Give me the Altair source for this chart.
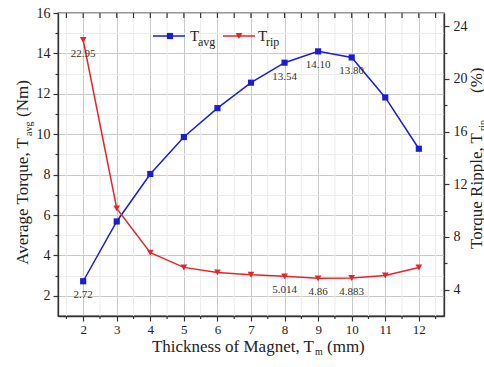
import altair as alt
import pandas as pd

# Magnet thickness sweep (mm)
thickness = [2, 3, 4, 5, 6, 7, 8, 9, 10, 11, 12]
# Average torque (Nm)
t_avg = [2.72, 5.68, 8.03, 9.86, 11.29, 12.55, 13.54, 14.10, 13.80, 11.82, 9.28]
# Torque ripple (%)
t_rip = [22.95, 10.17, 6.80, 5.69, 5.31, 5.13, 5.014, 4.86, 4.883, 5.08, 5.68]

# Annotated points: thickness -> printed value
avg_label_x = [2, 8, 9, 10]
avg_label_txt = ["2.72", "13.54", "14.10", "13.80"]
rip_label_x = [2, 8, 9, 10]
rip_label_txt = ["22.95", "5.014", "4.86", "4.883"]

BLUE = "#1c1cd0"
RED = "#e3262c"
FONT = "Liberation Serif"

W, H = 386, 303

df = pd.DataFrame({"x": thickness, "avg": t_avg, "rip": t_rip})
avg_lab = pd.DataFrame({
    "x": avg_label_x,
    "avg": [t_avg[thickness.index(v)] for v in avg_label_x],
    "txt": avg_label_txt,
})
rip_lab = pd.DataFrame({
    "x": rip_label_x,
    "rip": [t_rip[thickness.index(v)] for v in rip_label_x],
    "txt": rip_label_txt,
})

x_major = list(range(2, 13))
x_minor = [1.5 + i for i in range(12)]
x_all = sorted(x_major + x_minor)

x_enc = alt.X(
    "x:Q",
    scale=alt.Scale(domain=[1.25, 12.75], nice=False, zero=False),
    axis=alt.Axis(
        values=x_major,
        format="d",
        tickSize=5,
        grid=True,
        gridColor="#c9c9c9",
        title=None,
        labelFont=FONT, labelFontSize=13, labelColor="#222",
        labelPadding=2,
        domainColor="#333", domainWidth=1.3, tickColor="#333", tickWidth=1.2,
    ),
)

y_avg = alt.Y(
    "avg:Q",
    scale=alt.Scale(domain=[1, 16], nice=False, zero=False),
    axis=alt.Axis(
        values=list(range(2, 17)),
        labelExpr="datum.value % 2 == 0 ? datum.label : ''",
        labelOverlap=False,
        labelFlush=False,
        tickSize={"condition": {"test": "datum.value % 2 == 0", "value": 5}, "value": 3},
        gridColor={"condition": {"test": "datum.value % 2 == 0", "value": "#c9c9c9"}, "value": "#ececec"},
        grid=True,
        title=None,
        labelFont=FONT, labelFontSize=14, labelColor="#222",
        labelPadding=3,
        domainColor="#333", domainWidth=1.3, tickColor="#333", tickWidth=1.2,
    ),
)

y_rip = alt.Y(
    "rip:Q",
    scale=alt.Scale(domain=[2, 25], nice=False, zero=False),
    axis=alt.Axis(
        orient="right",
        values=list(range(4, 25, 2)),
        labelExpr="datum.value % 4 == 0 ? datum.label : ''",
        labelOverlap=False,
        labelFlush=False,
        tickSize={"condition": {"test": "datum.value % 4 == 0", "value": 5}, "value": 3},
        grid=False,
        title=None,
        labelFont=FONT, labelFontSize=14, labelColor="#222",
        labelPadding=4,
        domainColor="#333", domainWidth=1.3, tickColor="#333", tickWidth=1.2,
    ),
)

# Minor vertical grid lines and minor bottom ticks at half-millimetre steps
minor_df = pd.DataFrame({"x": x_minor})
minor_grid = alt.Chart(minor_df).mark_rule(color="#ececec", strokeWidth=1).encode(
    x=x_enc, y=alt.value(0), y2=alt.value(H))
minor_ticks = alt.Chart(minor_df).mark_rule(color="#333", strokeWidth=1.2).encode(
    x=x_enc, y=alt.value(H), y2=alt.value(H + 3))

avg_line = alt.Chart(df).mark_line(
    color=BLUE, strokeWidth=1.5,
    point=alt.OverlayMarkDef(shape="square", size=38, filled=True, color=BLUE, opacity=1),
).encode(x=x_enc, y=y_avg)
avg_text = alt.Chart(avg_lab).mark_text(
    font=FONT, fontSize=11, color="#333", dy=14, baseline="middle"
).encode(x=x_enc, y=y_avg, text="txt:N")

rip_line = alt.Chart(df).mark_line(
    color=RED, strokeWidth=1.5,
    point=alt.OverlayMarkDef(shape="triangle-down", size=45, filled=True, color=RED, opacity=1),
).encode(x=x_enc, y=y_rip)
rip_text = alt.Chart(rip_lab).mark_text(
    font=FONT, fontSize=11, color="#333", dy=14, baseline="middle"
).encode(x=x_enc, y=y_rip, text="txt:N")

avg_layer = alt.layer(avg_line, avg_text)
rip_layer = alt.layer(rip_line, rip_text)

# Inward ticks along the top frame
top_ticks = alt.Chart(pd.DataFrame({"x": x_all})).mark_rule(
    color="#333", strokeWidth=1.2
).encode(x=x_enc, y=alt.value(0), y2=alt.value(5))

one = pd.DataFrame({"k": [0]})


def txt(s, x, y, size=17, angle=0, align="left", baseline="alphabetic"):
    return alt.Chart(one).mark_text(
        text=s, font=FONT, fontSize=size, color="#222", angle=angle,
        align=align, baseline=baseline,
    ).encode(x=alt.value(x), y=alt.value(y))


# Axis titles with subscripts
x_title = [
    txt("Thickness of Magnet, T", 256, 339, align="right"),
    txt("m", 257, 342, size=10),
    txt("(mm)", 269, 339),
]
left_title = [
    txt("Average Torque, T", -30, 125, angle=270, align="right"),
    txt("avg", -26, 123, size=10, angle=270),
    txt("(Nm)", -30, 104, angle=270),
]
right_title = [
    txt("Torque Ripple, T", 424, 120, angle=270, align="right"),
    txt("rip", 428, 118, size=10, angle=270),
    txt("(%)", 424, 80, angle=270),
]

# Legend
legend = [
    alt.Chart(one).mark_rule(color=BLUE, strokeWidth=1.5).encode(
        x=alt.value(95), x2=alt.value(127), y=alt.value(23)),
    alt.Chart(one).mark_point(shape="square", size=38, filled=True, color=BLUE, opacity=1).encode(
        x=alt.value(112), y=alt.value(23)),
    txt("T", 132, 28, size=15),
    txt("avg", 140, 33, size=12),
    alt.Chart(one).mark_rule(color=RED, strokeWidth=1.5).encode(
        x=alt.value(165), x2=alt.value(197), y=alt.value(23)),
    alt.Chart(one).mark_point(shape="triangle-down", size=45, filled=True, color=RED, opacity=1).encode(
        x=alt.value(181), y=alt.value(23)),
    txt("T", 200, 28, size=15),
    txt("rip", 208, 33, size=12),
]

chart = alt.layer(
    minor_grid, minor_ticks, avg_layer, rip_layer, top_ticks,
    *x_title, *left_title, *right_title, *legend
).resolve_scale(y="independent").properties(
    width=W, height=H,
    autosize=alt.AutoSizeParams(type="none"),
    padding={"left": 58, "top": 13, "right": 40, "bottom": 51},
).configure_view(stroke="#333", strokeWidth=1.3)

chart.save("out.html", embed_options={"renderer": "svg", "actions": False})
